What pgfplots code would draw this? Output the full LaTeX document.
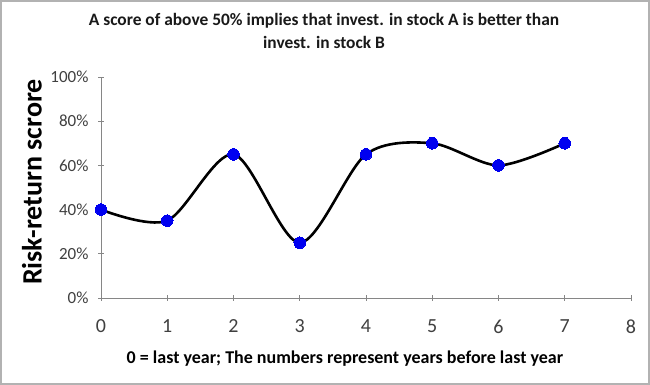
\documentclass[border=0pt]{standalone}
\usepackage{fontspec}
\setmainfont{Carlito}
\usepackage{pgfplots}
\pgfplotsset{compat=1.18}
\definecolor{tickgray}{RGB}{64,64,64}
\definecolor{axgray}{RGB}{134,134,134}
\definecolor{mkblue}{RGB}{0,0,240}
\begin{document}
\begin{tikzpicture}
\useasboundingbox (0pt,0pt) rectangle (650pt,385pt);
\draw[fill=white,draw=gray!60,line width=2pt] (1pt,1pt) rectangle (649pt,384pt);
\node[font=\bfseries\fontsize{17.4}{23}\selectfont,align=center,text=black!90] at (324pt,354pt) {A score of above 50\% implies that invest. in stock A is better than\\invest. in stock B};
\node[font=\bfseries\fontsize{28}{30}\selectfont,rotate=90] at (32pt,203pt) {Risk-return scrore};
\node[font=\bfseries\fontsize{18}{20}\selectfont] at (345pt,26pt) {0 = last year; The numbers represent years before last year};
\begin{axis}[
  at={(101pt,87pt)}, anchor=origin,
  scale only axis, width=530pt, height=221pt,
  xmin=0, xmax=8, ymin=0, ymax=1,
  xtick={0,...,8}, ytick={0,0.2,0.4,0.6,0.8,1},
  xticklabels={0,1,2,3,4,5,6,7,8},
  yticklabels={0\%,20\%,40\%,60\%,80\%,100\%},
  axis x line*=bottom, axis y line*=left,
  axis line style={axgray,line width=0.8pt},
  tick style={axgray,line width=0.8pt},
  tick align=center, major tick length=6pt,
  xticklabel style={font=\fontsize{20}{22}\selectfont,text=tickgray,yshift=-15pt},
  yticklabel style={font=\fontsize{17}{19}\selectfont,text=tickgray,xshift=-6pt},
  clip=false,
]
\addplot[black,line width=2.6pt,smooth,tension=0.5,mark=*,mark size=5.8pt,mark options={fill=mkblue,draw=mkblue,line width=0pt}]
 coordinates {(0,0.40) (1,0.35) (2,0.65) (3,0.25) (4,0.65) (5,0.70) (6,0.60) (7,0.70)};
\end{axis}
\end{tikzpicture}
\end{document}
